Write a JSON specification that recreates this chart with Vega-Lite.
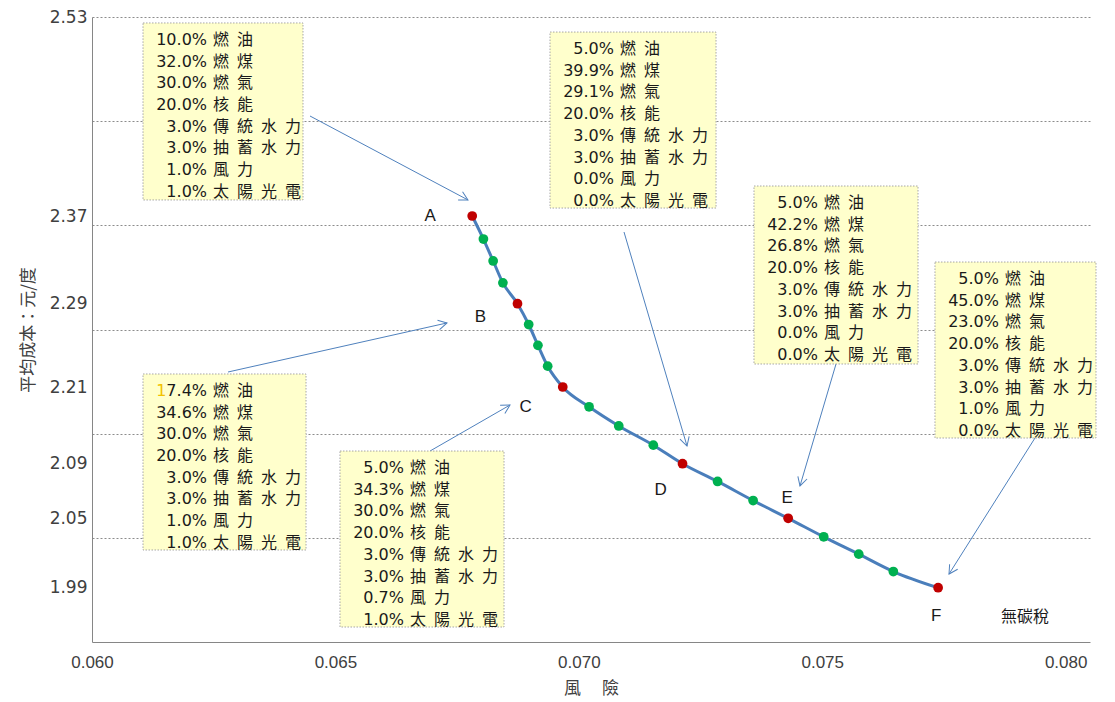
{
  "$schema": "https://vega.github.io/schema/vega-lite/v6.json",
  "width": 998,
  "height": 625,
  "autosize": {"type": "none"},
  "padding": {"left": 92, "top": 17, "right": 25, "bottom": 60},
  "background": "white",
  "config": {"view": {"stroke": null}, "font": "Liberation Sans"},
  "datasets": {
    "curve": [
      {"risk": 0.06781, "cost": 2.37, "group": "portfolio", "tag": "A"},
      {"risk": 0.06804, "cost": 2.349, "group": "step", "tag": ""},
      {"risk": 0.06824, "cost": 2.329, "group": "step", "tag": ""},
      {"risk": 0.06844, "cost": 2.309, "group": "step", "tag": ""},
      {"risk": 0.06874, "cost": 2.29, "group": "portfolio", "tag": "B"},
      {"risk": 0.06897, "cost": 2.27, "group": "step", "tag": ""},
      {"risk": 0.06916, "cost": 2.25, "group": "step", "tag": ""},
      {"risk": 0.06936, "cost": 2.23, "group": "step", "tag": ""},
      {"risk": 0.06967, "cost": 2.21, "group": "portfolio", "tag": "C"},
      {"risk": 0.07021, "cost": 2.179, "group": "step", "tag": ""},
      {"risk": 0.07082, "cost": 2.149, "group": "step", "tag": ""},
      {"risk": 0.07153, "cost": 2.119, "group": "step", "tag": ""},
      {"risk": 0.07213, "cost": 2.09, "group": "portfolio", "tag": "D"},
      {"risk": 0.07285, "cost": 2.077, "group": "step", "tag": ""},
      {"risk": 0.07358, "cost": 2.063, "group": "step", "tag": ""},
      {"risk": 0.0743, "cost": 2.05, "group": "portfolio", "tag": "E"},
      {"risk": 0.07503, "cost": 2.034, "group": "step", "tag": ""},
      {"risk": 0.07575, "cost": 2.019, "group": "step", "tag": ""},
      {"risk": 0.07646, "cost": 2.004, "group": "step", "tag": ""},
      {"risk": 0.07738, "cost": 1.99, "group": "portfolio", "tag": "F"}
    ],
    "mixes": [
      {"tag": "A", "x0": 0.061048, "x1": 0.064334, "yTop": 2.5252, "yBot": 2.3829,
       "pct": ["10.0%", "32.0%", "30.0%", "20.0%", "3.0%", "3.0%", "1.0%", "1.0%"],
       "fuel": ["燃\u2002油", "燃\u2002煤", "燃\u2002氣", "核\u2002能", "傳\u2002統\u2002水\u2002力", "抽\u2002蓄\u2002水\u2002力", "風\u2002力", "太\u2002陽\u2002光\u2002電"]},
      {"tag": "B", "x0": 0.061048, "x1": 0.064396, "yTop": 2.2225, "yBot": 2.0226,
       "pct": ["7.4%", "34.6%", "30.0%", "20.0%", "3.0%", "3.0%", "1.0%", "1.0%"],
       "fuel": ["燃\u2002油", "燃\u2002煤", "燃\u2002氣", "核\u2002能", "傳\u2002統\u2002水\u2002力", "抽\u2002蓄\u2002水\u2002力", "風\u2002力", "太\u2002陽\u2002光\u2002電"]},
      {"tag": "C", "x0": 0.065094, "x1": 0.068463, "yTop": 2.1098, "yBot": 1.9538,
       "pct": ["5.0%", "34.3%", "30.0%", "20.0%", "3.0%", "3.0%", "0.7%", "1.0%"],
       "fuel": ["燃\u2002油", "燃\u2002煤", "燃\u2002氣", "核\u2002能", "傳\u2002統\u2002水\u2002力", "抽\u2002蓄\u2002水\u2002力", "風\u2002力", "太\u2002陽\u2002光\u2002電"]},
      {"tag": "D", "x0": 0.069408, "x1": 0.072818, "yTop": 2.5179, "yBot": 2.3764,
       "pct": ["5.0%", "39.9%", "29.1%", "20.0%", "3.0%", "3.0%", "0.0%", "0.0%"],
       "fuel": ["燃\u2002油", "燃\u2002煤", "燃\u2002氣", "核\u2002能", "傳\u2002統\u2002水\u2002力", "抽\u2002蓄\u2002水\u2002力", "風\u2002力", "太\u2002陽\u2002光\u2002電"]},
      {"tag": "E", "x0": 0.073598, "x1": 0.076967, "yTop": 2.3941, "yBot": 2.2321,
       "pct": ["5.0%", "42.2%", "26.8%", "20.0%", "3.0%", "3.0%", "0.0%", "0.0%"],
       "fuel": ["燃\u2002油", "燃\u2002煤", "燃\u2002氣", "核\u2002能", "傳\u2002統\u2002水\u2002力", "抽\u2002蓄\u2002水\u2002力", "風\u2002力", "太\u2002陽\u2002光\u2002電"]},
      {"tag": "F", "x0": 0.077316, "x1": 0.080623, "yTop": 2.328, "yBot": 2.1302,
       "pct": ["5.0%", "45.0%", "23.0%", "20.0%", "3.0%", "3.0%", "1.0%", "0.0%"],
       "fuel": ["燃\u2002油", "燃\u2002煤", "燃\u2002氣", "核\u2002能", "傳\u2002統\u2002水\u2002力", "抽\u2002蓄\u2002水\u2002力", "風\u2002力", "太\u2002陽\u2002光\u2002電"]}
    ],
    "pointers": [
      {"tag": "A", "x0": 0.064478, "y0": 2.4504, "x1": 0.067723, "y1": 2.3829},
      {"tag": "B", "x0": 0.062794, "y0": 2.2244, "x1": 0.067292, "y1": 2.2715},
      {"tag": "C", "x0": 0.066943, "y0": 2.1098, "x1": 0.068586, "y1": 2.1818},
      {"tag": "D", "x0": 0.070928, "y0": 2.3554, "x1": 0.072222, "y1": 2.1177},
      {"tag": "E", "x0": 0.075283, "y0": 2.2321, "x1": 0.074543, "y1": 2.0737},
      {"tag": "F", "x0": 0.07937, "y0": 2.1302, "x1": 0.077604, "y1": 2.0018}
    ],
    "captions": [
      {"risk": 0.079165, "cost": 1.963, "text": "無碳稅"}
    ]
  },
  "resolve": {"axis": {"x": "independent", "y": "independent"}},
  "layer": [
    {
      "data": {"name": "curve"},
      "mark": {"type": "line", "interpolate": "monotone", "color": "#4A7EBB", "strokeWidth": 3},
      "encoding": {
        "x": {"field": "risk", "type": "quantitative",
              "scale": {"domain": [0.06, 0.0805], "zero": false, "nice": false},
              "axis": {"values": [0.06, 0.065, 0.07, 0.075, 0.08], "format": ".3f", "grid": false, "ticks": false,
                       "domainColor": "#868686", "labelFont": "Liberation Sans", "labelFontSize": 17, "labelColor": "#404040",
                       "labelPadding": 12, "labelFlush": false, "title": "風　 險", "titleFont": "Noto Sans CJK TC",
                       "titleFontSize": 17, "titleFontWeight": "normal", "titleColor": "#404040", "titlePadding": 10}},
        "y": {"field": "cost", "type": "quantitative",
              "scale": {"domain": [1.94, 1.99, 2.05, 2.09, 2.21, 2.29, 2.37, 2.53], "range": [625, 570.7, 501.3, 446.7, 370, 286.7, 199, 0], "zero": false, "nice": false},
              "axis": {"values": [2.03312, 2.13698, 2.26522, 2.36149, 2.44625, 2.53], "labels": false, "ticks": false, "grid": true,
                       "gridColor": "#8c8c8c", "gridDash": [2, 2], "domainColor": "#868686", "title": null, "orient": "left"}}
      }
    },
    {
      "data": {"name": "curve"},
      "mark": {"type": "circle", "size": 95, "opacity": 1},
      "encoding": {
        "x": {"field": "risk", "type": "quantitative", "scale": {"domain": [0.06, 0.0805], "zero": false, "nice": false}, "axis": null},
        "y": {"field": "cost", "type": "quantitative",
              "scale": {"domain": [1.94, 1.99, 2.05, 2.09, 2.21, 2.29, 2.37, 2.53], "range": [625, 570.7, 501.3, 446.7, 370, 286.7, 199, 0], "zero": false, "nice": false},
              "axis": {"values": [1.99, 2.05, 2.09, 2.21, 2.29, 2.37, 2.53], "format": ".2f", "grid": false, "ticks": false, "domain": false,
                       "labelFont": "DejaVu Sans", "labelFontSize": 17, "labelColor": "#404040", "labelPadding": 5, "labelFlush": false,
                       "orient": "left", "title": "平均成本：元/度", "titleFont": "Noto Sans CJK TC", "titleFontSize": 17,
                       "titleFontWeight": "normal", "titleColor": "#404040", "titlePadding": 12}},
        "color": {"field": "group", "type": "nominal", "scale": {"domain": ["portfolio", "step"], "range": ["#C00000", "#00B050"]}, "legend": null}
      }
    },
    {
      "data": {"name": "curve"},
      "transform": [{"filter": "datum.tag !== ''"}],
      "mark": {"type": "text", "font": "Liberation Sans", "fontSize": 17, "color": "#1a1a1a", "align": "center", "baseline": "middle",
               "dx": {"expr": "datum.tag === 'A' ? -42 : datum.tag === 'B' ? -37 : datum.tag === 'C' ? -37 : datum.tag === 'D' ? -22 : datum.tag === 'E' ? -1 : -2"},
               "dy": {"expr": "datum.tag === 'A' ? 0 : datum.tag === 'B' ? 13 : datum.tag === 'C' ? 20 : datum.tag === 'D' ? 26 : datum.tag === 'E' ? -20 : 28"}},
      "encoding": {
        "x": {"field": "risk", "type": "quantitative", "scale": {"domain": [0.06, 0.0805], "zero": false, "nice": false}, "axis": null},
        "y": {"field": "cost", "type": "quantitative",
              "scale": {"domain": [1.94, 1.99, 2.05, 2.09, 2.21, 2.29, 2.37, 2.53], "range": [625, 570.7, 501.3, 446.7, 370, 286.7, 199, 0], "zero": false, "nice": false}, "axis": null},
        "text": {"field": "tag", "type": "nominal"}
      }
    },
    {
      "data": {"name": "pointers"},
      "mark": {"type": "rule", "color": "#4F81BD", "strokeWidth": 1},
      "encoding": {
        "x": {"field": "x0", "type": "quantitative", "scale": {"domain": [0.06, 0.0805], "zero": false, "nice": false}, "axis": null},
        "y": {"field": "y0", "type": "quantitative",
              "scale": {"domain": [1.94, 1.99, 2.05, 2.09, 2.21, 2.29, 2.37, 2.53], "range": [625, 570.7, 501.3, 446.7, 370, 286.7, 199, 0], "zero": false, "nice": false}, "axis": null},
        "x2": {"field": "x1"},
        "y2": {"field": "y1"}
      }
    },
    {
      "data": {"name": "pointers"},
      "mark": {"type": "point", "shape": "M -0.55 1 L 0 0 L 0.55 1", "filled": false, "stroke": "#4F81BD", "strokeWidth": 1, "size": 300, "opacity": 1,
               "angle": {"expr": "atan2(scale('x', datum.x1) - scale('x', datum.x0), scale('y', datum.y0) - scale('y', datum.y1)) * 180 / PI"}},
      "encoding": {
        "x": {"field": "x1", "type": "quantitative", "scale": {"domain": [0.06, 0.0805], "zero": false, "nice": false}, "axis": null},
        "y": {"field": "y1", "type": "quantitative",
              "scale": {"domain": [1.94, 1.99, 2.05, 2.09, 2.21, 2.29, 2.37, 2.53], "range": [625, 570.7, 501.3, 446.7, 370, 286.7, 199, 0], "zero": false, "nice": false}, "axis": null}
      }
    },
    {
      "data": {"name": "mixes"},
      "mark": {"type": "rect", "fill": "#FFFFCC", "stroke": "#A6A6A6", "strokeWidth": 1, "strokeDash": [1.5, 1.5]},
      "encoding": {
        "x": {"field": "x0", "type": "quantitative", "scale": {"domain": [0.06, 0.0805], "zero": false, "nice": false}, "axis": null},
        "x2": {"field": "x1"},
        "y": {"field": "yTop", "type": "quantitative",
              "scale": {"domain": [1.94, 1.99, 2.05, 2.09, 2.21, 2.29, 2.37, 2.53], "range": [625, 570.7, 501.3, 446.7, 370, 286.7, 199, 0], "zero": false, "nice": false}, "axis": null},
        "y2": {"field": "yBot"}
      }
    },
    {
      "data": {"name": "mixes"},
      "mark": {"type": "text", "align": "right", "baseline": "top", "dx": 64, "dy": 9, "lineHeight": 21.7,
               "font": "DejaVu Sans", "fontSize": 16, "color": "#1a1a1a"},
      "encoding": {
        "x": {"field": "x0", "type": "quantitative", "scale": {"domain": [0.06, 0.0805], "zero": false, "nice": false}, "axis": null},
        "y": {"field": "yTop", "type": "quantitative",
              "scale": {"domain": [1.94, 1.99, 2.05, 2.09, 2.21, 2.29, 2.37, 2.53], "range": [625, 570.7, 501.3, 446.7, 370, 286.7, 199, 0], "zero": false, "nice": false}, "axis": null},
        "text": {"field": "pct", "type": "nominal"}
      }
    },
    {
      "data": {"name": "mixes"},
      "transform": [{"filter": "datum.tag === 'B'"}],
      "mark": {"type": "text", "align": "right", "baseline": "top", "dx": 23.4, "dy": 9,
               "font": "DejaVu Sans", "fontSize": 16, "color": "#F2C200"},
      "encoding": {
        "x": {"field": "x0", "type": "quantitative", "scale": {"domain": [0.06, 0.0805], "zero": false, "nice": false}, "axis": null},
        "y": {"field": "yTop", "type": "quantitative",
              "scale": {"domain": [1.94, 1.99, 2.05, 2.09, 2.21, 2.29, 2.37, 2.53], "range": [625, 570.7, 501.3, 446.7, 370, 286.7, 199, 0], "zero": false, "nice": false}, "axis": null},
        "text": {"value": "1"}
      }
    },
    {
      "data": {"name": "mixes"},
      "mark": {"type": "text", "align": "left", "baseline": "top", "dx": 70, "dy": 9, "lineHeight": 21.7,
               "font": "Noto Sans CJK TC", "fontSize": 16, "color": "#1a1a1a"},
      "encoding": {
        "x": {"field": "x0", "type": "quantitative", "scale": {"domain": [0.06, 0.0805], "zero": false, "nice": false}, "axis": null},
        "y": {"field": "yTop", "type": "quantitative",
              "scale": {"domain": [1.94, 1.99, 2.05, 2.09, 2.21, 2.29, 2.37, 2.53], "range": [625, 570.7, 501.3, 446.7, 370, 286.7, 199, 0], "zero": false, "nice": false}, "axis": null},
        "text": {"field": "fuel", "type": "nominal"}
      }
    },
    {
      "data": {"name": "captions"},
      "mark": {"type": "text", "align": "center", "baseline": "middle", "font": "Noto Sans CJK TC", "fontSize": 16, "color": "#1a1a1a"},
      "encoding": {
        "x": {"field": "risk", "type": "quantitative", "scale": {"domain": [0.06, 0.0805], "zero": false, "nice": false}, "axis": null},
        "y": {"field": "cost", "type": "quantitative",
              "scale": {"domain": [1.94, 1.99, 2.05, 2.09, 2.21, 2.29, 2.37, 2.53], "range": [625, 570.7, 501.3, 446.7, 370, 286.7, 199, 0], "zero": false, "nice": false}, "axis": null},
        "text": {"field": "text", "type": "nominal"}
      }
    }
  ]
}
